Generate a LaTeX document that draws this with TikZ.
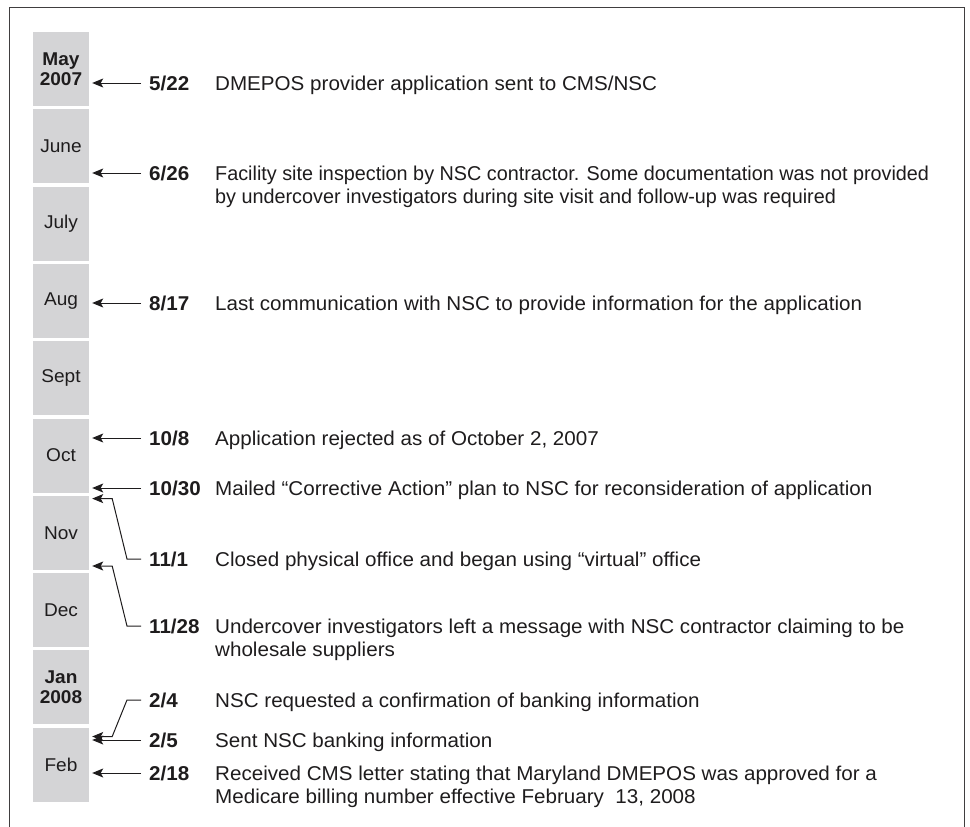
\documentclass[tikz,border=0pt]{standalone}
\usepackage{fontspec}
\setmainfont{Liberation Sans}[FakeStretch=1.03]
\newfontfamily\tightfont{Liberation Sans}[FakeStretch=0.99]
\usetikzlibrary{arrows.meta}
\definecolor{boxgray}{RGB}{212,212,214}
\definecolor{ink}{RGB}{30,28,29}
\begin{document}
\begin{tikzpicture}[x=1pt,y=-1pt,
  month/.style={fill=boxgray, minimum width=56pt, minimum height=74pt, inner sep=0pt, align=center, font=\fontsize{18.5}{20}\selectfont, text=ink},
  datelbl/.style={anchor=west, inner sep=0pt, text height=14.4pt, text depth=0pt, font=\fontsize{20}{23.5}\selectfont\bfseries, text=ink},
  desc/.style={anchor=base west, inner sep=0pt, align=left, font=\fontsize{20}{23.5}\selectfont, text=ink},
  desctwo/.style={anchor=north west, inner sep=0pt, align=left, font=\fontsize{20}{23}\selectfont, text=ink},
  arr/.style={draw=ink, line width=1pt, -{Stealth[length=11pt,width=9pt,inset=2.5pt]}, shorten >=3pt},
  frame/.style={draw=ink!85, line width=1.5pt}]
\useasboundingbox (0,0) rectangle (970,827);
\draw[frame] (9.5,827) -- (9.5,7.5) -- (964.5,7.5) -- (964.5,827);

% month boxes
\node[month] (m1) at (61,69) {\textbf{May}\\\textbf{2007}};
\node[month] (m2) at (61,146.3) {June};
\node[month] (m3) at (61,223.6) {July};
\node[month] (m4) at (61,300.9) {Aug};
\node[month] (m5) at (61,378.2) {Sept};
\node[month] (m6) at (61,455.5) {Oct};
\node[month] (m7) at (61,532.8) {Nov};
\node[month] (m8) at (61,610.1) {Dec};
\node[month] (m9) at (61,687.4) {\textbf{Jan}\\\textbf{2008}};
\node[month] (m10) at (61,764.7) {Feb};

% dates
\node[datelbl] (d1) at (149,83) {5/22};
\node[datelbl] (d2) at (149,173) {6/26};
\node[datelbl] (d3) at (149,303) {8/17};
\node[datelbl] (d4) at (149,438) {10/8};
\node[datelbl] (d5) at (149,488) {10/30};
\node[datelbl] (d6) at (149,559) {11/1};
\node[datelbl] (d7) at (149,626) {11/28};
\node[datelbl] (d8) at (149,700) {2/4};
\node[datelbl] (d9) at (149,740) {2/5};
\node[datelbl] (d10) at (149,773) {2/18};

% descriptions
\node[desc] (t1) at ([xshift=66pt]d1.base west) {DMEPOS provider application sent to CMS/NSC};
\node[desctwo] (t2) at ([xshift=66pt]d2.north west) {\tightfont Facility site inspection by NSC contractor. Some documentation was not provided\\\tightfont by undercover investigators during site visit and follow-up was required};
\node[desc] (t3) at ([xshift=66pt]d3.base west) {Last communication with NSC to provide information for the application};
\node[desc] (t4) at ([xshift=66pt]d4.base west) {Application rejected as of October 2, 2007};
\node[desc] (t5) at ([xshift=66pt]d5.base west) {Mailed “Corrective Action” plan to NSC for reconsideration of application};
\node[desc] (t6) at ([xshift=66pt]d6.base west) {Closed physical office and began using “virtual” office};
\node[desctwo] (t7) at ([xshift=66pt]d7.north west) {Undercover investigators left a message with NSC contractor claiming to be\\wholesale suppliers};
\node[desc] (t8) at ([xshift=66pt]d8.base west) {NSC requested a confirmation of banking information};
\node[desc] (t9) at ([xshift=66pt]d9.base west) {Sent NSC banking information};
\node[desctwo] (t10) at ([xshift=66pt]d10.north west) {Received CMS letter stating that Maryland DMEPOS was approved for a\\Medicare billing number effective February~~13, 2008};

% connectors
\draw[arr] ([xshift=-8pt]d1.west) -- (d1.west -| m1.east);
\draw[arr] ([xshift=-8pt]d2.west) -- (d2.west -| m2.east);
\draw[arr] ([xshift=-8pt]d3.west) -- (d3.west -| m4.east);
\draw[arr] ([xshift=-8pt]d4.west) -- (d4.west -| m6.east);
\draw[arr] ([xshift=-8pt]d5.west) -- (d5.west -| m6.east);
\draw[arr] ([xshift=-8pt]d6.west) -- ++(-14,0) -- ([xshift=23pt,yshift=-3pt]m7.north east) -- ([yshift=-3pt]m7.north east);
\draw[arr] ([xshift=-8pt]d7.west) -- ++(-14,0) -- ([xshift=23pt,yshift=4pt]m7.south east) -- ([yshift=4pt]m7.south east);
\draw[arr] ([xshift=-8pt]d8.west) -- ++(-14,0) -- ([xshift=23pt,yshift=-9pt]m10.north east) -- ([yshift=-9pt]m10.north east);
\draw[arr] ([xshift=-8pt]d9.west) -- (d9.west -| m10.east);
\draw[arr] ([xshift=-8pt]d10.west) -- (d10.west -| m10.east);
\end{tikzpicture}
\end{document}
